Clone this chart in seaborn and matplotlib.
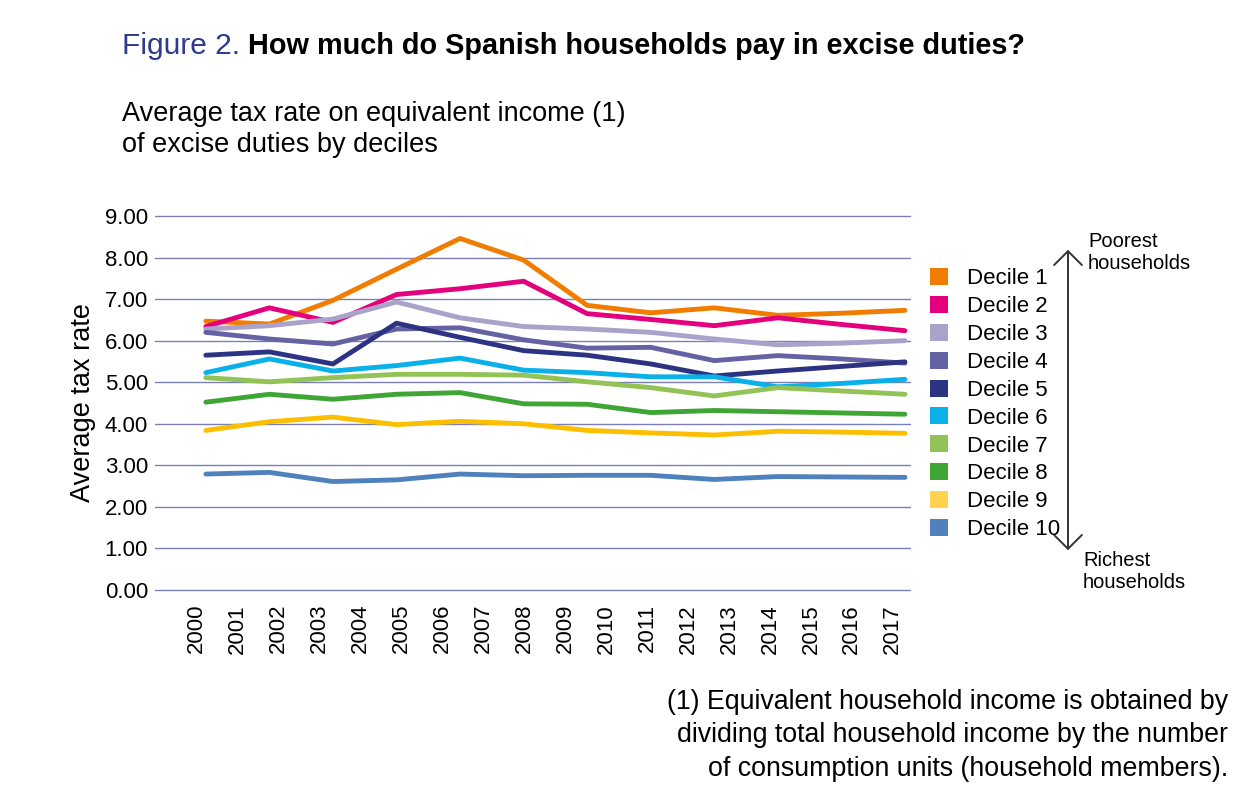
import numpy as np
import pandas as pd
import matplotlib.pyplot as plt
import seaborn as sns
from matplotlib.patches import Patch, FancyArrowPatch

years = [str(y) for y in range(2000, 2018)]
deciles = ['Decile 1', 'Decile 2', 'Decile 3', 'Decile 4', 'Decile 5',
           'Decile 6', 'Decile 7', 'Decile 8', 'Decile 9', 'Decile 10']

decile_1 = [6.47, 6.40, 6.97, 7.72, 8.46, 7.94, 6.85, 6.67, 6.79, 6.61, 6.66, 6.73]
decile_2 = [6.34, 6.79, 6.44, 7.11, 7.25, 7.43, 6.65, 6.51, 6.36, 6.55, 6.39, 6.24]
decile_3 = [6.28, 6.36, 6.52, 6.93, 6.55, 6.34, 6.28, 6.20, 6.04, 5.90, 5.94, 6.00]
decile_4 = [6.20, 6.04, 5.92, 6.28, 6.31, 6.02, 5.82, 5.84, 5.52, 5.64, 5.56, 5.46]
decile_5 = [5.65, 5.73, 5.44, 6.42, 6.08, 5.76, 5.65, 5.44, 5.15, 5.27, 5.38, 5.49]
decile_6 = [5.23, 5.56, 5.27, 5.40, 5.58, 5.29, 5.23, 5.13, 5.13, 4.89, 4.97, 5.07]
decile_7 = [5.11, 5.01, 5.11, 5.19, 5.19, 5.17, 5.01, 4.87, 4.67, 4.87, 4.79, 4.71]
decile_8 = [4.52, 4.71, 4.59, 4.71, 4.75, 4.48, 4.47, 4.27, 4.32, 4.29, 4.26, 4.23]
decile_9 = [3.84, 4.05, 4.16, 3.98, 4.06, 4.00, 3.84, 3.78, 3.73, 3.82, 3.80, 3.77]
decile_10 = [2.79, 2.83, 2.61, 2.65, 2.79, 2.75, 2.76, 2.76, 2.66, 2.73, 2.72, 2.71]

series = [decile_1, decile_2, decile_3, decile_4, decile_5,
          decile_6, decile_7, decile_8, decile_9, decile_10]

line_colors = ['#f07d00', '#e4007d', '#a9a3cc', '#6562a3', '#2b3382',
               '#0ab1e8', '#93c356', '#3fa535', '#fbbf00', '#4f81bd']
patch_colors = ['#f07d00', '#e4007d', '#a9a3cc', '#6562a3', '#2b3382',
                '#0ab1e8', '#93c356', '#3fa535', '#ffd34d', '#4f81bd']

rows = []
for name, vals in zip(deciles, series):
    for i, v in enumerate(vals):
        rows.append({'point': i, 'rate': v, 'decile': name})
df = pd.DataFrame(rows)

sns.set_style('white')
plt.rcParams['font.family'] = ['Liberation Sans', 'DejaVu Sans']
plt.rcParams['text.color'] = 'black'
plt.rcParams['axes.labelcolor'] = 'black'
plt.rcParams['xtick.color'] = 'black'
plt.rcParams['ytick.color'] = 'black'

fig = plt.figure(figsize=(12.53, 8.11), dpi=100)
ax = fig.add_axes([155 / 1253, 1 - 590 / 811, 755 / 1253, 374 / 811])

sns.lineplot(data=df, x='point', y='rate', hue='decile', hue_order=deciles,
             palette=line_colors, linewidth=3.5, legend=False, ax=ax,
             solid_capstyle='round', solid_joinstyle='round')

ax.set_xlim(-0.80, 11.08)
ax.set_ylim(0, 9)
ax.set_yticks(range(0, 10))
ax.set_yticklabels([f'{v:.2f}' for v in range(0, 10)], fontsize=16)
ax.set_xticks(np.linspace(-0.15, 10.81, len(years)))
ax.set_xticklabels(years, rotation=90, fontsize=16, va='top')
ax.tick_params(axis='both', length=0)
ax.tick_params(axis='y', pad=5)
ax.tick_params(axis='x', pad=10)
ax.grid(axis='y', color='#7a80b5', linewidth=1.0)
ax.grid(axis='x', visible=False)
for gl in ax.get_ygridlines():
    gl.set_clip_on(False)
for s in ax.spines.values():
    s.set_visible(False)
ax.set_xlabel('')
ax.set_ylabel('Average tax rate', fontsize=19.5, labelpad=6)

# Title
t1 = fig.text(122 / 1253, 1 - 60 / 811, 'Figure 2.', fontsize=21.5,
              color='#2e3a8c', va='bottom')
fig.canvas.draw()
bb = t1.get_window_extent()
fig.text((bb.x1 + 8) / 1253, bb.y0 / 811,
         'How much do Spanish households pay in excise duties?',
         fontsize=20.8, fontweight='bold', color='black', va='bottom')

fig.text(122 / 1253, 1 - 101 / 811,
         'Average tax rate on equivalent income (1)\nof excise duties by deciles',
         fontsize=19.5, va='top', linespacing=1.25)

# Legend
handles = [Patch(facecolor=c, edgecolor='none', label=d)
           for c, d in zip(patch_colors, deciles)]
fig.legend(handles=handles, loc='upper left',
           bbox_to_anchor=(930 / 1253, 1 - 268 / 811), frameon=False,
           fontsize=16, handlelength=0.8, handleheight=0.8,
           handletextpad=0.85, labelspacing=0.3, borderpad=0, borderaxespad=0)

# Poorest / richest arrow
fig.patches.append(FancyArrowPatch(
    (1068 / 1253, 1 - 553 / 811), (1068 / 1253, 1 - 247 / 811),
    transform=fig.transFigure, arrowstyle='<->,head_length=0.5,head_width=0.5',
    mutation_scale=20, color='#333333', linewidth=1.4))
fig.text(1088 / 1253, 1 - 232 / 811, 'Poorest\nhouseholds', fontsize=14.5,
         va='top', linespacing=1.19)
fig.text(1083 / 1253, 1 - 551 / 811, 'Richest\nhouseholds', fontsize=14.5,
         va='top', linespacing=1.19)

fig.text(1228 / 1253, 1 - 689 / 811,
         '(1) Equivalent household income is obtained by\n'
         'dividing total household income by the number\n'
         'of consumption units (household members).',
         fontsize=19.3, ha='right', va='top', multialignment='right',
         linespacing=1.37)

fig.savefig('out.png', dpi=100)
